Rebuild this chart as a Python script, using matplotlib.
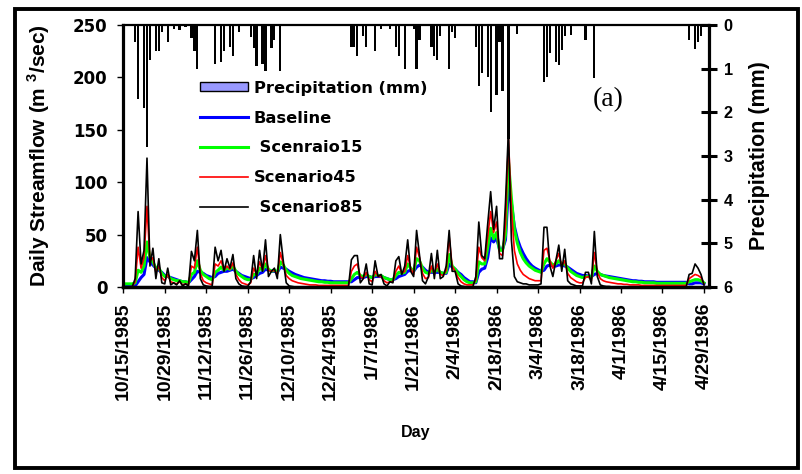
import pandas as pd
import matplotlib
matplotlib.use("Agg")
import matplotlib.pyplot as plt
import matplotlib.dates as mdates
from matplotlib.patches import Patch, Rectangle
from matplotlib.lines import Line2D

plt.rcParams["mathtext.fontset"] = "custom"
plt.rcParams["mathtext.bf"] = "Liberation Sans:bold"
plt.rcParams["mathtext.rm"] = "Liberation Sans:bold"

START = "1985-10-15"
tick_labels = ["10/15/1985", "10/29/1985", "11/12/1985", "11/26/1985", "12/10/1985",
               "12/24/1985", "1/7/1986", "1/21/1986", "2/4/1986", "2/18/1986",
               "3/4/1986", "3/18/1986", "4/1/1986", "4/15/1986", "4/29/1986"]
flow_ticks = [0, 50, 100, 150, 200, 250]
precip_ticks = [0, 1, 2, 3, 4, 5, 6]

# daily precipitation (mm), 10/15/1985 .. 4/29/1986
precip = [0, 0, 0, 0, 0.4, 1.7, 0, 1.9, 2.8, 0.8,
          0, 0.6, 0.6, 0.15, 0, 0.4, 0, 0.1, 0, 0.12,
          0, 0.05, 0, 0.3, 0.6, 1.0, 0, 0, 0, 0,
          0, 0.9, 0, 0.85, 0.6, 0, 0.5, 0.7, 0, 0.15,
          0, 0, 0, 0.27, 0.52, 0.94, 0, 0.9, 1.05, 0,
          0.52, 0.35, 0, 1.05, 0, 0, 0, 0, 0, 0,
          0, 0, 0, 0, 0, 0, 0, 0, 0, 0,
          0, 0, 0, 0, 0, 0, 0, 0.5, 0.5, 0.7,
          0, 0.25, 0.5, 0, 0, 0.6, 0, 0.1, 0, 0,
          0.1, 0, 0.5, 0.7, 0, 1.0, 0, 0, 0.1, 1.0,
          0.35, 0, 0, 0, 0.5, 0.7, 0.8, 0.25, 0, 0,
          1.0, 0.15, 0.3, 0, 0, 0, 0, 0, 0, 0.5,
          1.4, 1.1, 0, 1.2, 2.0, 0, 1.6, 0.4, 1.5, 0,
          2.6, 0, 0, 0.2, 0, 0, 0, 0, 0, 0,
          0, 0, 1.3, 1.2, 0.65, 0, 0.85, 0.92, 0.57, 0.26,
          0, 0.23, 0, 0, 0, 0, 0.35, 0, 0, 1.22,
          0, 0, 0, 0, 0, 0, 0, 0, 0, 0,
          0, 0, 0, 0, 0, 0, 0, 0, 0, 0,
          0, 0, 0, 0, 0, 0, 0, 0, 0, 0,
          0, 0.35, 0, 0.55, 0.4, 0.25, 0]

# daily streamflow (m3/s)
baseline = [1, 1, 1, 1, 1, 5, 9, 12, 28, 24,
            21, 18, 16, 14, 11, 10, 9, 8, 7, 6,
            5, 5, 4, 7, 10, 15, 14, 13, 11, 10,
            9, 10, 13, 14, 15, 15, 16, 17, 15, 13,
            11, 10, 9, 8, 9, 11, 13, 14, 17, 16,
            15, 15, 14, 19, 18, 17, 15, 13.5, 12, 11,
            10, 9, 8.5, 8, 7.5, 7, 6.5, 6, 6, 5.5,
            5.5, 5, 5, 5, 5, 5, 5, 5, 7, 9,
            9, 9, 10, 10, 9, 10, 10, 10, 9, 8,
            7, 7, 8, 10, 11, 12, 15, 16, 15, 19,
            21, 19, 16, 14, 14, 14, 14, 14, 13, 13,
            22, 19, 17, 14, 12, 9, 7, 5, 5, 4,
            14, 17, 18, 28, 47, 43, 47, 36, 36, 45,
            95, 80, 58, 46, 38, 32, 27, 23, 20, 18,
            16.5, 15, 16, 20, 21, 20, 20, 21, 21, 20,
            19, 17, 15, 13, 12, 11, 11, 10.5, 10, 12,
            13, 12, 11, 10.5, 10, 9.5, 9, 8.5, 8, 7.5,
            7, 6.5, 6, 6, 5.5, 5.5, 5, 5, 5, 5,
            4.5, 4.5, 4.5, 4.5, 4.5, 4.5, 4.5, 4.5, 4.5, 4.5,
            4.5, 3, 3, 4, 4, 4, 3]

scen15 = [3, 3, 3, 3, 4, 16, 14, 20, 43, 28,
          24, 18, 18, 13, 10, 11, 8, 7, 6, 6,
          5, 5, 4, 12, 14, 25, 16, 12, 10, 8,
          7, 14, 16, 19, 16, 18, 17, 20, 15, 12,
          10, 8, 7, 7, 12, 12, 18, 16, 22, 17,
          15, 16, 14, 24, 21, 16, 13, 11, 10, 9,
          8, 7.5, 7, 6.5, 6, 5.5, 5, 5, 4.5, 4.5,
          4, 4, 4, 4, 4, 4, 4, 8, 12, 14,
          11, 10, 12, 10, 9, 12, 11, 11, 9, 8,
          7, 7, 11, 14, 13, 14, 22, 18, 15, 27,
          25, 18, 14, 13, 16, 14, 17, 14, 13, 14,
          31, 20, 17, 13, 10, 7, 5, 4, 4, 5,
          24, 22, 22, 38, 56, 46, 52, 35, 35, 50,
          120, 85, 55, 42, 33, 27, 23, 20, 18, 16,
          15, 14, 22, 27, 24, 21, 22, 25, 22, 22,
          18, 15, 13, 11, 10, 9, 10, 10, 9, 20,
          15, 12, 11, 10, 9, 8.5, 8, 7.5, 7, 6.5,
          6, 5.5, 5, 5, 4.5, 4.5, 4, 4, 4, 4,
          3.5, 3.5, 3.5, 3.5, 3.5, 3.5, 3.5, 3.5, 3.5, 3.5,
          3.5, 5, 6, 7, 7, 6, 4]

scen45 = [0, 0, 0, 0.5, 5, 38, 18, 28, 77, 25,
          28, 14, 20, 9, 6, 12, 5, 4, 3, 5,
          2, 3, 2, 20, 18, 38, 13, 6, 4, 3,
          2, 22, 20, 25, 16, 20, 17, 23, 12, 7,
          4, 3, 2, 4, 18, 12, 24, 16, 30, 16,
          15, 16, 12, 33, 22, 11, 8, 6, 5, 4,
          3.5, 3, 2.5, 2, 2, 2, 1.5, 1.5, 1.5, 1.5,
          1.5, 1.5, 1.5, 1.5, 1.5, 1.5, 1.5, 15, 20, 22,
          10, 8, 14, 7, 5, 15, 10, 10, 6, 4,
          5, 5, 15, 20, 13, 15, 30, 18, 12, 38,
          28, 13, 8, 9, 20, 12, 22, 12, 11, 16,
          48, 20, 15, 9, 5, 3, 2, 2, 2, 7,
          38, 28, 25, 48, 72, 52, 62, 32, 30, 60,
          142, 75, 35, 22, 16, 12, 10, 8, 7, 6,
          6, 6, 35, 37, 25, 18, 25, 32, 20, 25,
          13, 9, 7, 5, 4, 4, 9, 10, 6, 33,
          14, 8, 6, 5, 4.5, 4, 3.5, 3, 3, 2.5,
          2.5, 2, 2, 2, 2, 1.5, 1.5, 1.5, 1.5, 1.5,
          1.5, 1.5, 1.5, 1.5, 1.5, 1.5, 1.5, 1.5, 1.5, 1.5,
          1.5, 8, 10, 12, 11, 9, 3]

scen85 = [0, 0, 0, 0, 8, 72, 22, 35, 123, 20,
          37, 8, 27, 4, 3, 18, 2, 4, 2, 6,
          1, 3, 1, 34, 25, 54, 8, 2, 1, 0.5,
          0.5, 38, 25, 35, 15, 27, 18, 31, 8, 3,
          1, 0.5, 0.5, 5, 30, 8, 35, 15, 45, 10,
          15, 18, 8, 50, 25, 4, 1, 0.5, 0, 0,
          0, 0, 0, 0, 0, 0, 0, 0, 0, 0,
          0, 0, 0, 0, 0, 0, 0, 26, 30, 30,
          4, 8, 22, 3, 2, 25, 10, 12, 3, 1,
          5, 4, 25, 29, 12, 20, 45, 15, 10, 54,
          30, 6, 3, 10, 32, 8, 35, 8, 10, 20,
          54, 15, 15, 3, 1, 0.5, 0, 0, 0, 10,
          62, 30, 27, 60, 91, 55, 77, 27, 27, 80,
          150, 45, 10, 5, 4, 3, 3, 2, 2, 2,
          2, 3, 57, 57, 20, 10, 25, 40, 15, 36,
          6, 3, 2, 1, 1, 1, 14, 14, 3, 53,
          10, 2, 1, 0.5, 0.5, 0, 0, 0, 0, 0,
          0, 0, 0, 0, 0, 0, 0, 0, 0, 0,
          0, 0, 0, 0, 0, 0, 0, 0, 0, 0,
          0, 12, 13, 22, 18, 12, 2]

days = mdates.date2num(pd.date_range(START, periods=len(baseline), freq="D"))
tick_pos = days[::14]

BOLD = dict(fontfamily="Liberation Sans", fontweight="bold")

fig = plt.figure(figsize=(8.03, 4.74), dpi=100)
ax = fig.add_axes([0.1528, 0.3945, 0.7305, 0.5527])

ax.plot(days, baseline, color="#0000FF", lw=2.2)
ax.plot(days, scen15, color="#00FF00", lw=2.2)
ax.plot(days, scen45, color="#FF0000", lw=1.2)
ax.plot(days, scen85, color="black", lw=1.2)
ax.set_xlim(days[0] - 0.2, days[0] + 197.8)
ax.set_ylim(0, 250)
ax.set_yticks(flow_ticks)
ax.set_yticklabels([str(v) for v in flow_ticks], fontfamily="DejaVu Sans",
                   fontweight="bold", fontsize=12)
ax.set_xticks(tick_pos)
ax.set_xticklabels(tick_labels, rotation=90, fontsize=14, **BOLD)
ax.tick_params(axis="y", direction="out", length=4, width=1, pad=7)
ax.tick_params(axis="x", direction="out", length=4, width=1, pad=7.5)
for side, lw in [("left", 2.3), ("bottom", 2.5), ("top", 1.6)]:
    ax.spines[side].set_linewidth(lw)
ax.spines["right"].set_visible(False)

ax.set_ylabel(r"Daily Streamflow (m $^{\mathbf{3}}$/sec)", fontsize=15, **BOLD)
ax.yaxis.set_label_coords(-0.1205, 0.5)
ax.set_xlabel("Day", fontsize=11.5, **BOLD)
ax.xaxis.set_label_coords(0.5, -0.527)

# precipitation hangs from the top on the secondary axis
ax2 = ax.twinx()
ax2.bar(days, precip, width=0.75, color="black", edgecolor="none")
ax2.set_ylim(6, 0)
ax2.set_yticks(precip_ticks)
ax2.set_yticklabels([str(v) for v in precip_ticks], fontsize=11.7, **BOLD)
ax2.tick_params(axis="y", direction="inout", length=11, width=2.2, pad=5)
for side in ["left", "bottom", "top"]:
    ax2.spines[side].set_visible(False)
ax2.spines["right"].set_linewidth(2.3)
ax2.set_ylabel("Precipitation (mm)", fontsize=15.5, **BOLD)
ax2.yaxis.set_label_coords(1.0677, 0.5)

handles = [Patch(facecolor="#9999FF", edgecolor="black", lw=1),
           Line2D([], [], color="#0000FF", lw=2.2),
           Line2D([], [], color="#00FF00", lw=2.2),
           Line2D([], [], color="#FF0000", lw=1.2),
           Line2D([], [], color="black", lw=1.2)]
labels = ["Precipitation (mm)", "Baseline", " Scenraio15", "Scenario45", " Scenario85"]
fig.legend(handles, labels, loc="upper left", bbox_to_anchor=(0.249, 0.830),
           frameon=False, borderpad=0, borderaxespad=0, labelspacing=0.92,
           handlelength=2.95, handleheight=0.5, handletextpad=0.35,
           prop=dict(family="DejaVu Sans", weight="bold", size=11.7))

fig.text(608 / 803, 1 - 100 / 474, "(a)", fontfamily="Liberation Serif",
         fontsize=20, ha="center", va="center")

fig.patches.append(Rectangle((0.0187, 0.0127), 0.975, 0.968, transform=fig.transFigure,
                             fill=False, lw=2.8, ec="black"))

fig.savefig("out.png", dpi=100)
